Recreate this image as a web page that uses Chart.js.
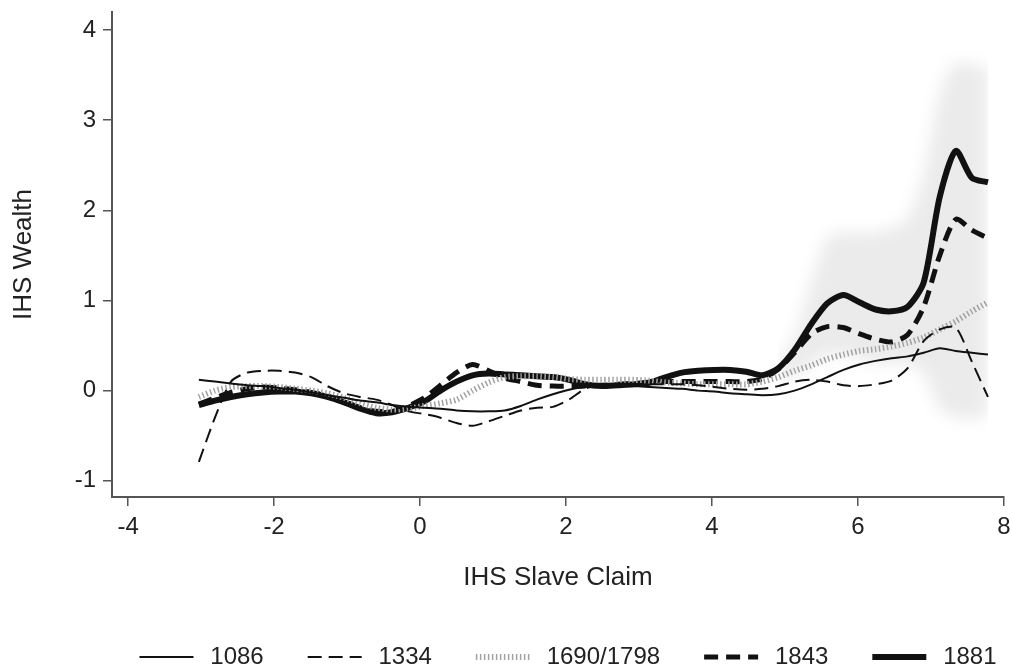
<!DOCTYPE html>
<html>
<head>
<meta charset="utf-8">
<title>IHS Wealth</title>
<script src="https://cdn.jsdelivr.net/npm/chart.js@4.4.1/dist/chart.umd.min.js"></script>
<style>
  html, body { margin: 0; padding: 0; background: #ffffff; }
  #wrap { width: 1012px; height: 669px; }
</style>
</head>
<body>
<div id="wrap"><canvas id="wealthChart" width="1012" height="669"></canvas></div>
<script>
// 1. Données : grille commune (IHS Slave Claim) et une courbe par année
const claimGrid = [
    -3.03, -2.81, -2.59, -2.37, -2.15, -1.93, -1.71, -1.49, -1.27, -1.04,
    -0.82, -0.60, -0.38, -0.16, 0.06, 0.28, 0.50, 0.72, 0.94, 1.16,
    1.38, 1.60, 1.82, 2.04, 2.26, 2.49, 2.71, 2.93, 3.15, 3.37,
    3.59, 3.81, 4.03, 4.25, 4.47, 4.69, 4.91, 5.13, 5.36, 5.58,
    5.80, 6.02, 6.24, 6.46, 6.68, 6.90, 7.12, 7.34, 7.56, 7.78
];

const wealth1086 = [
    0.12, 0.10, 0.08, 0.06, 0.05, 0.03, 0.01, -0.02, -0.05, -0.08,
    -0.11, -0.13, -0.16, -0.18, -0.19, -0.20, -0.22, -0.23, -0.23, -0.22,
    -0.17, -0.10, -0.04, 0.01, 0.04, 0.05, 0.05, 0.05, 0.04, 0.03,
    0.02, 0.00, -0.01, -0.03, -0.04, -0.05, -0.04, 0.00, 0.07, 0.15,
    0.23, 0.29, 0.33, 0.36, 0.38, 0.42, 0.47, 0.44, 0.42, 0.40
];

const wealth1334 = [
    -0.79, -0.30, 0.10, 0.20, 0.22, 0.22, 0.20, 0.15, 0.05, -0.03,
    -0.07, -0.10, -0.16, -0.23, -0.26, -0.30, -0.36, -0.39, -0.34, -0.28,
    -0.22, -0.19, -0.18, -0.10, 0.02, 0.06, 0.07, 0.07, 0.07, 0.07,
    0.07, 0.06, 0.04, 0.02, 0.01, 0.02, 0.05, 0.10, 0.12, 0.10,
    0.06, 0.05, 0.07, 0.11, 0.25, 0.55, 0.68, 0.70, 0.32, -0.07
];

const wealth1690 = [
    -0.07, 0.00, 0.04, 0.05, 0.05, 0.04, 0.02, 0.00, -0.03, -0.08,
    -0.14, -0.19, -0.21, -0.20, -0.17, -0.14, -0.10, 0.00, 0.09, 0.15,
    0.16, 0.16, 0.15, 0.13, 0.12, 0.12, 0.12, 0.12, 0.11, 0.09,
    0.08, 0.07, 0.07, 0.07, 0.07, 0.10, 0.15, 0.22, 0.28, 0.35,
    0.40, 0.44, 0.46, 0.49, 0.53, 0.59, 0.68, 0.77, 0.88, 0.98
];

const wealth1843 = [
    -0.15, -0.08, -0.02, 0.02, 0.04, 0.03, 0.01, -0.02, -0.06, -0.12,
    -0.19, -0.23, -0.23, -0.17, -0.08, 0.06, 0.20, 0.29, 0.22, 0.14,
    0.10, 0.06, 0.05, 0.05, 0.05, 0.06, 0.07, 0.08, 0.09, 0.10,
    0.10, 0.10, 0.10, 0.10, 0.10, 0.13, 0.24, 0.42, 0.63, 0.71,
    0.70, 0.63, 0.57, 0.54, 0.62, 0.93, 1.50, 1.90, 1.78, 1.69
];

const wealth1881 = [
    -0.16, -0.11, -0.07, -0.04, -0.02, -0.01, -0.01, -0.03, -0.07, -0.13,
    -0.20, -0.25, -0.24, -0.19, -0.12, 0.00, 0.10, 0.17, 0.19, 0.18,
    0.17, 0.16, 0.15, 0.12, 0.07, 0.05, 0.06, 0.07, 0.09, 0.15,
    0.20, 0.22, 0.23, 0.23, 0.21, 0.17, 0.25, 0.45, 0.74, 0.97,
    1.06, 0.98, 0.90, 0.88, 0.93, 1.20, 2.15, 2.66, 2.36, 2.31
];

// bande grisée (intervalle) à partir du point 36 de la grille
const bandStart = 36;
const bandHigh = [0.30, 0.60, 1.20, 1.70, 1.75, 1.75, 1.75, 1.80, 1.90, 2.40, 3.30, 3.65, 3.60, 3.60];
const bandLow = [0.10, 0.15, 0.30, 0.40, 0.40, 0.35, 0.30, 0.30, 0.30, 0.20, -0.20, -0.30, -0.30, -0.30];

const seriesLabels = ['1086', '1334', '1690/1798', '1843', '1881'];
const xTicks = [-4, -2, 0, 2, 4, 6, 8];
const yTicks = [-1, 0, 1, 2, 3, 4];

// 2. Petits utilitaires
const toPoints = (ys) => claimGrid.map((x, i) => ({ x: x, y: ys[i] }));
const toBand = (ys) => ys.map((y, i) => ({ x: claimGrid[bandStart + i], y: y }));

function ligne(label, ys, color, width, dash) {
    return {
        label: label,
        data: toPoints(ys),
        borderColor: color,
        backgroundColor: color,
        borderWidth: width,
        borderDash: dash,
        borderJoinStyle: 'round',
        pointRadius: 0,
        tension: 0.25,
        fill: false
    };
}

// 3. Plugins : flou de la bande, position de la légende
const flouBande = {
    id: 'flouBande',
    beforeDatasetsDraw(chart) {
        chart.ctx.save();
        chart.ctx.filter = 'blur(8px)';
    },
    afterDatasetDraw(chart, args) {
        if (args.index === 5) chart.ctx.restore();
    }
};

const decalageLegende = {
    id: 'decalageLegende',
    afterLayout(chart) {
        const lg = chart.legend;
        lg.left += 66; lg.right += 66;
        lg.top += 10; lg.bottom += 10;
    }
};

Chart.defaults.font.family = '"Liberation Sans", Arial, sans-serif';
Chart.defaults.font.size = 24;
Chart.defaults.color = '#222';

// 4. Le graphique
const ctx = document.getElementById('wealthChart').getContext('2d');
const myChart = new Chart(ctx, {
    type: 'line',
    data: {
        datasets: [
            ligne(seriesLabels[0], wealth1086, '#111', 2, []),
            ligne(seriesLabels[1], wealth1334, '#111', 2, [14, 7]),
            ligne(seriesLabels[2], wealth1690, '#a2a2a2', 6, [1.5, 2.5]),
            ligne(seriesLabels[3], wealth1843, '#111', 5, [14, 8]),
            ligne(seriesLabels[4], wealth1881, '#111', 6, []),
            {
                label: 'bas',
                data: toBand(bandLow),
                borderWidth: 0,
                pointRadius: 0,
                tension: 0.2,
                fill: false
            },
            {
                label: 'haut',
                data: toBand(bandHigh),
                borderWidth: 0,
                pointRadius: 0,
                tension: 0.2,
                backgroundColor: 'rgba(0, 0, 0, 0.08)',
                fill: '-1'
            }
        ]
    },
    options: {
        responsive: false,
        animation: false,
        devicePixelRatio: 1,
        events: [],
        layout: { padding: { left: 0, right: 8, top: 12, bottom: 0 } },
        plugins: {
            tooltip: { enabled: false },
            legend: {
                position: 'bottom',
                labels: {
                    usePointStyle: true,
                    pointStyleWidth: 54,
                    padding: 44,
                    color: '#222',
                    font: { size: 24 },
                    // espace fin devant le texte pour l'écart trait / libellé
                    generateLabels: (chart) => chart.data.datasets.slice(0, 5).map((ds, i) => ({
                        text: '\u2009' + ds.label,
                        strokeStyle: ds.borderColor,
                        fillStyle: ds.borderColor,
                        lineWidth: ds.borderWidth,
                        lineDash: ds.borderDash,
                        lineCap: 'butt',
                        pointStyle: 'line',
                        hidden: false,
                        fontColor: '#222',
                        datasetIndex: i
                    }))
                }
            }
        },
        scales: {
            x: {
                type: 'linear',
                min: -4.22,
                max: 8,
                border: { display: true, color: '#555', width: 2 },
                grid: { drawOnChartArea: false, drawTicks: true, tickLength: 9, color: '#555', lineWidth: 1.5 },
                ticks: { padding: 7, color: '#222', font: { size: 24 }, callback: (v) => String(v) },
                afterBuildTicks: (s) => { s.ticks = xTicks.map(v => ({ value: v })); },
                title: { display: true, text: 'IHS Slave Claim', color: '#222', font: { size: 26 }, padding: { top: 0, bottom: -2 } },
                afterFit: (s) => { s.height = 94; s.paddingLeft = 0; s.paddingRight = 0; }
            },
            y: {
                type: 'linear',
                min: -1.18,
                max: 4.2,
                border: { display: true, color: '#555', width: 2 },
                grid: { drawOnChartArea: false, drawTicks: true, tickLength: 9, color: '#555', lineWidth: 1.5 },
                ticks: { padding: 7, color: '#222', font: { size: 24 }, callback: (v) => String(v) },
                afterBuildTicks: (s) => { s.ticks = yTicks.map(v => ({ value: v })); },
                title: { display: true, text: 'IHS Wealth', color: '#222', font: { size: 26 }, padding: { top: 8, bottom: 0 } },
                afterFit: (s) => { s.width = 112; s.paddingTop = 0; s.paddingBottom = 0; }
            }
        }
    },
    plugins: [flouBande, decalageLegende]
});
</script>
</body>
</html>
